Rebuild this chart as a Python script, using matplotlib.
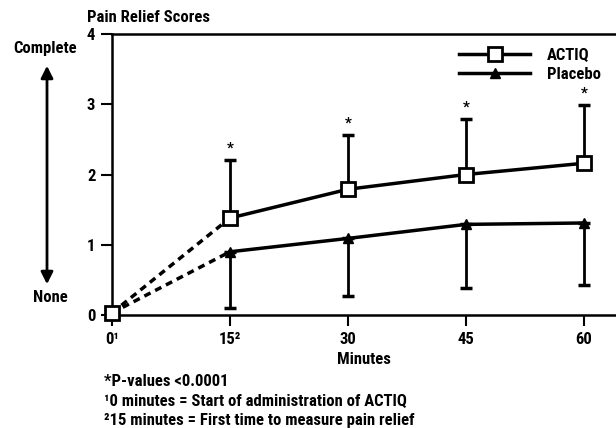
import matplotlib
matplotlib.use("Agg")
import matplotlib.pyplot as plt

plt.rcParams['font.family'] = ['Roboto Condensed', 'Liberation Sans Narrow', 'Roboto', 'DejaVu Sans']
plt.rcParams['font.weight'] = 'bold'

minutes = [0, 15, 30, 45, 60]
tick_labels = ['0¹', '15²', '30', '45', '60']
actiq = [0.03, 1.38, 1.79, 2.0, 2.16]
actiq_upper = [0.03, 2.21, 2.56, 2.79, 2.99]
placebo = [0.03, 0.9, 1.09, 1.29, 1.31]
placebo_lower = [0.03, 0.1, 0.27, 0.38, 0.43]
stars = ['', '*', '*', '*', '*']

fs = 12

fig = plt.figure(figsize=(6.16, 4.28), dpi=100)
ax = fig.add_axes([0.1818, 0.264, 0.8182, 0.6565])

# dashed start segments
ax.plot(minutes[:2], actiq[:2], color='black', lw=2.5, ls=(0, (2, 1.5)))
ax.plot(minutes[:2], placebo[:2], color='black', lw=2.5, ls=(0, (2, 1.5)))

# error bars
up = [u - a for u, a in zip(actiq_upper, actiq)]
lo = [p - l for p, l in zip(placebo, placebo_lower)]
ax.errorbar(minutes[1:], actiq[1:], yerr=[[0] * 4, up[1:]], fmt='none',
            ecolor='black', elinewidth=2, capsize=4, capthick=2.5)
ax.errorbar(minutes[1:], placebo[1:], yerr=[lo[1:], [0] * 4], fmt='none',
            ecolor='black', elinewidth=2, capsize=4, capthick=2.5)

ax.plot(minutes[1:], placebo[1:], color='black', lw=2.5, marker='^', ms=7,
        markerfacecolor='black', label='Placebo')
ax.plot(minutes[1:], actiq[1:], color='black', lw=2.5, marker='s', ms=10,
        markerfacecolor='white', markeredgewidth=2, label='ACTIQ', zorder=5)
ax.plot([0], [actiq[0]], marker='s', ms=10, markerfacecolor='white',
        markeredgecolor='black', markeredgewidth=2, zorder=6, clip_on=False)

for x, t, s in zip(minutes, actiq_upper, stars):
    if s:
        ax.text(x, t + 0.06, s, ha='center', va='bottom', fontsize=11)

ax.set_xlim(0, 64.1)
ax.set_ylim(0, 4)
ax.set_xticks(minutes)
ax.set_xticklabels(tick_labels, fontsize=fs, fontweight='bold')
ax.set_yticks([0, 1, 2, 3, 4])
ax.set_yticklabels(['0', '1', '2', '3', '4'], fontsize=fs, fontweight='bold')
ax.tick_params(axis='both', direction='out', length=8, width=1.5, pad=4)
ax.spines['right'].set_visible(False)
for s in ['left', 'top', 'bottom']:
    ax.spines[s].set_linewidth(1.8)
ax.set_xlabel('Minutes', fontsize=fs, fontweight='bold', labelpad=4)

h, l = ax.get_legend_handles_labels()
leg = ax.legend(h[::-1], l[::-1], loc='upper right', bbox_to_anchor=(1.0, 1.005),
                frameon=False, fontsize=fs, handlelength=4.3, labelspacing=0.25,
                handletextpad=1.0)

fig.text(87 / 616, 1 - 17 / 428, 'Pain Relief Scores', fontsize=fs, va='center', ha='left')
fig.text(45 / 616, 1 - 49 / 428, 'Complete', fontsize=fs, va='center', ha='center')
fig.text(50 / 616, 1 - 298 / 428, 'None', fontsize=fs, va='center', ha='center')
ax.annotate('', xy=(47 / 616, 1 - 63 / 428), xytext=(47 / 616, 1 - 287 / 428),
            xycoords='figure fraction',
            arrowprops=dict(arrowstyle='<|-|>', color='black', lw=2, mutation_scale=18))

fig.text(104 / 616, 1 - 382 / 428, '*P-values <0.0001', fontsize=fs, va='center')
fig.text(104 / 616, 1 - 402 / 428, '¹0 minutes = Start of administration of ACTIQ', fontsize=fs, va='center')
fig.text(104 / 616, 1 - 421 / 428, '²15 minutes = First time to measure pain relief', fontsize=fs, va='center')

fig.savefig('out.png', dpi=100)
